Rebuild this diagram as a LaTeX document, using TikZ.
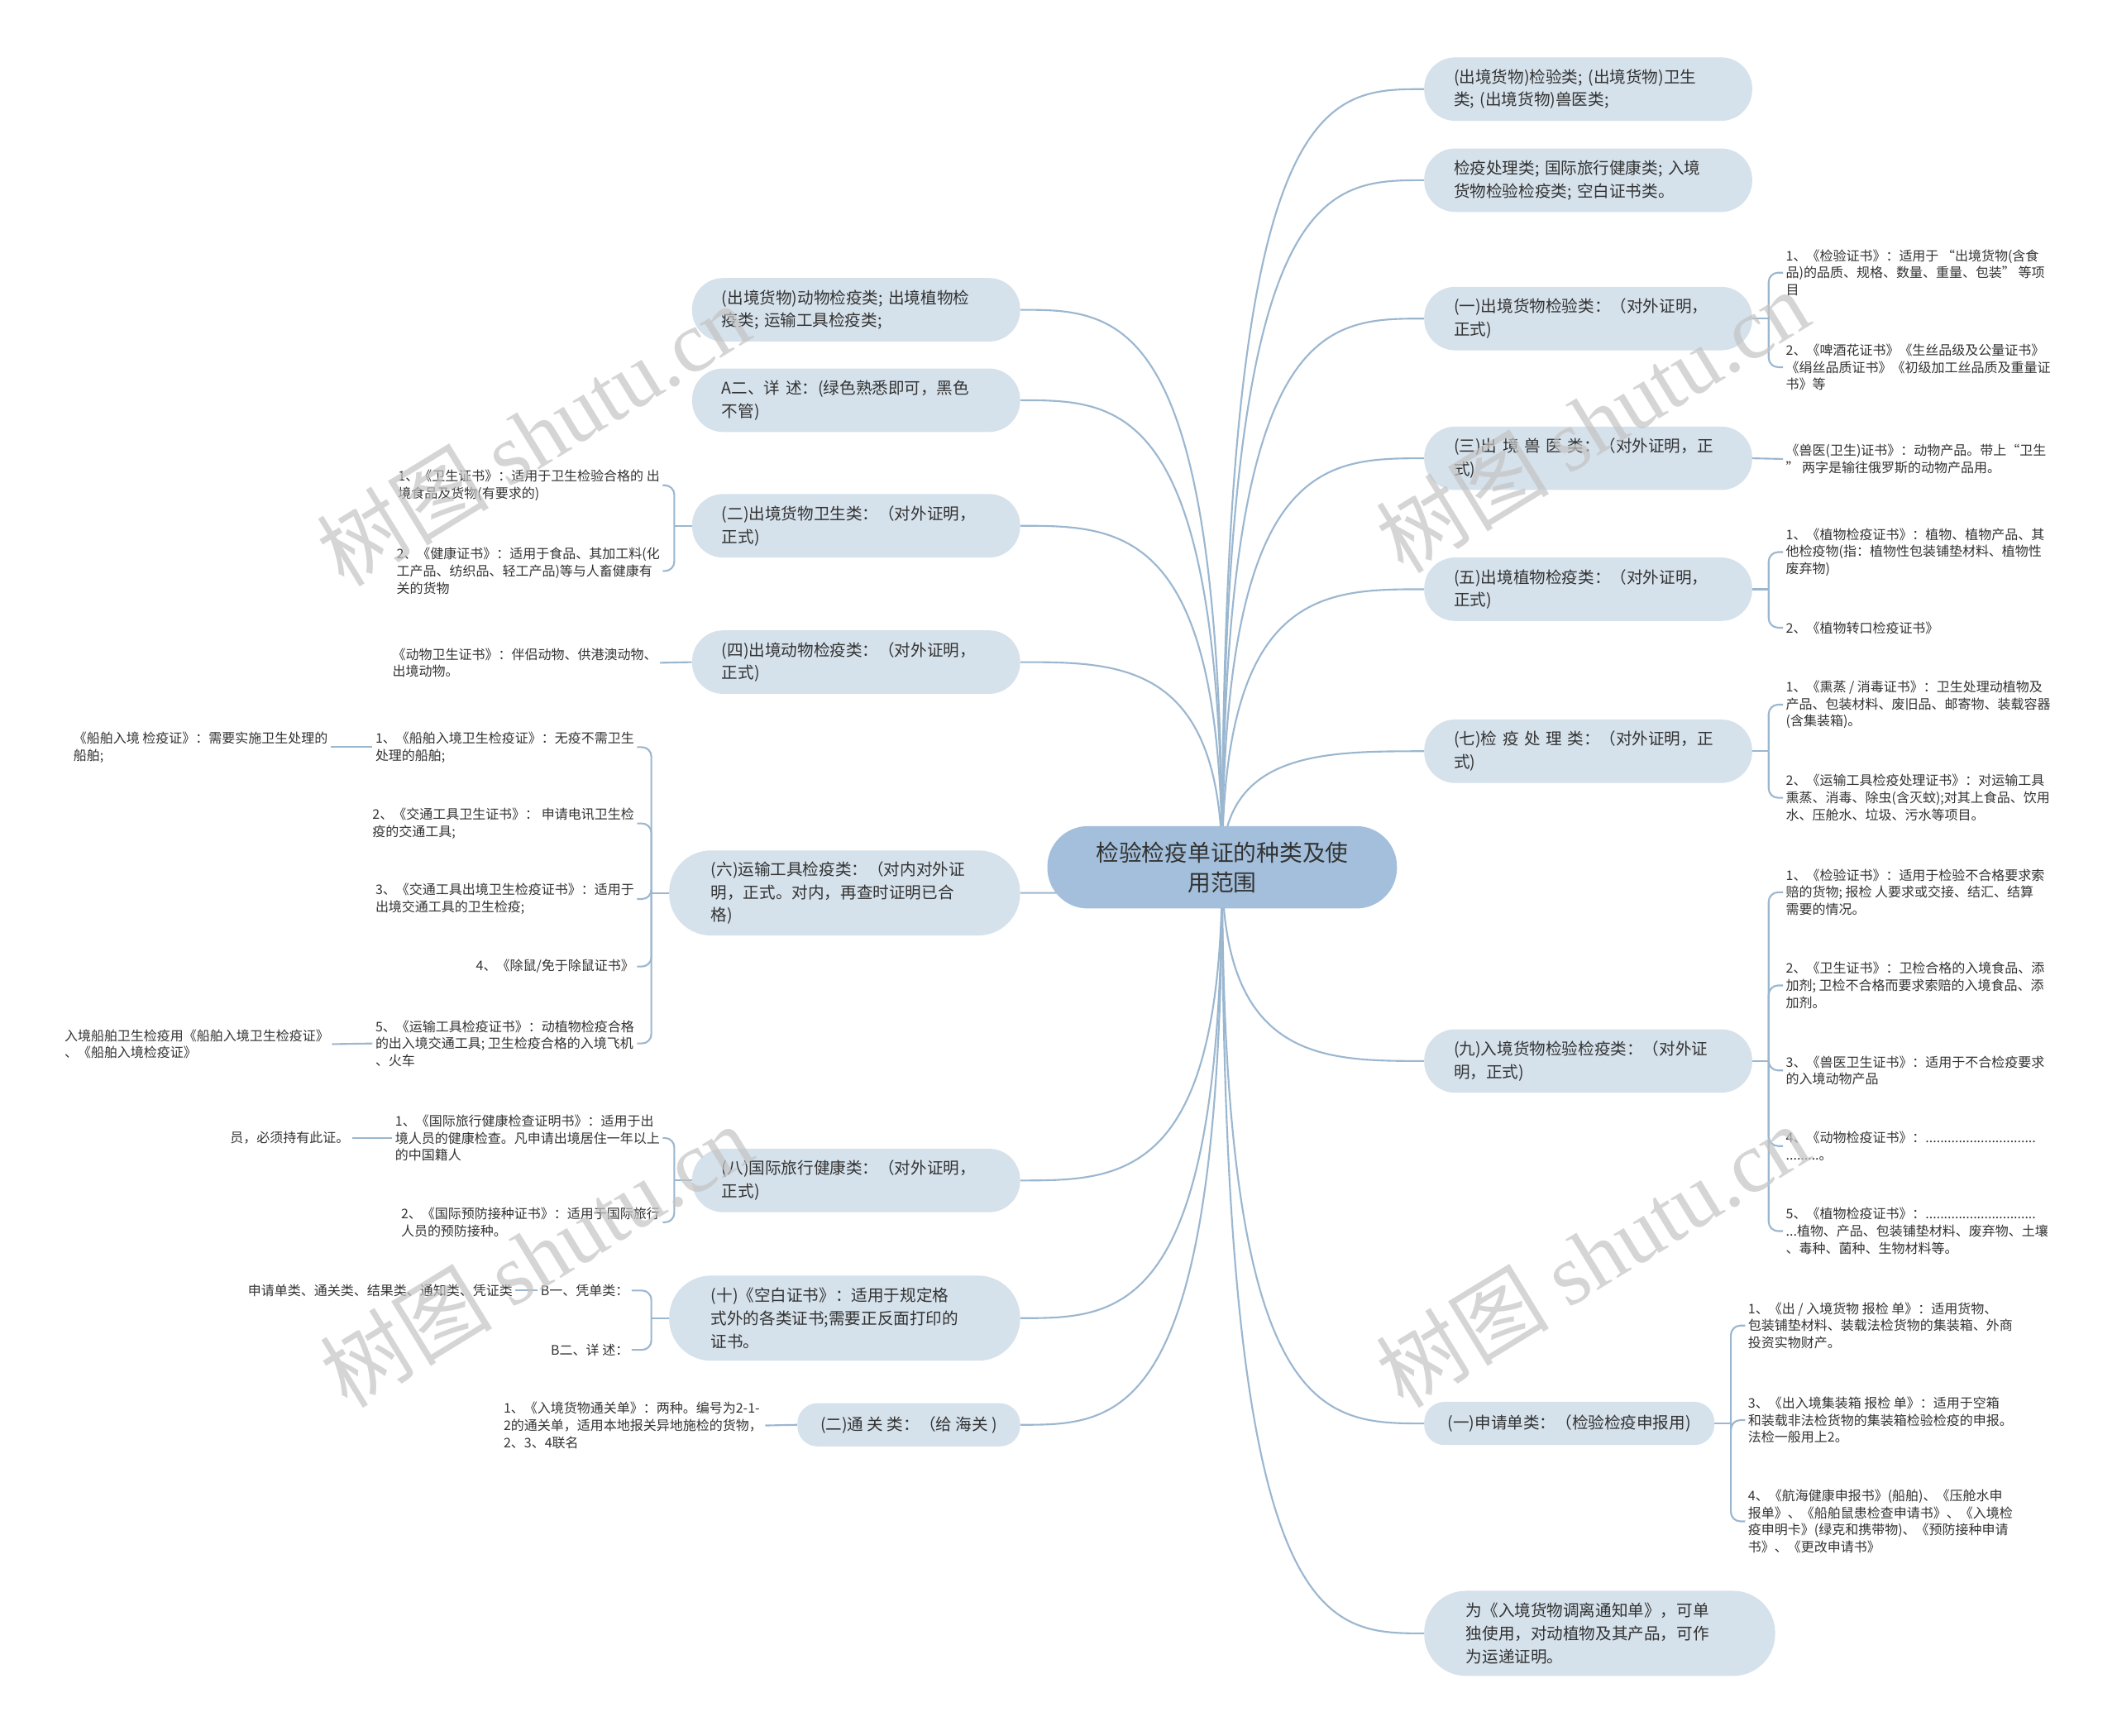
\documentclass[tikz,border=0pt]{standalone}
\usepackage{fontspec}
\setmainfont{Noto Sans CJK SC}
\newfontfamily\wmlatin{Liberation Serif}
\usetikzlibrary{calc,backgrounds}
\definecolor{linec}{HTML}{9BB7D0}
\definecolor{rootc}{HTML}{A3BFDB}
\definecolor{boxc}{HTML}{D5E1EB}
\definecolor{txtc}{HTML}{333333}
\definecolor{wmc}{HTML}{C4C4C4}
\begin{document}
\begin{tikzpicture}[x=1pt,y=-1pt,
 conn/.style={draw=linec, line width=1.3pt},
 brk/.style={conn, rounded corners=7pt},
 rootnode/.style={fill=rootc, rounded corners=30pt, minimum width=259pt, minimum height=61pt, align=center, text=txtc, font=\fontsize{17}{22}\selectfont, inner sep=0pt},
 br2/.style={fill=boxc, rounded corners=23pt, minimum height=47pt, inner xsep=22pt, inner ysep=3pt, text width=199pt, align=left, text=txtc, font=\fontsize{12}{17}\selectfont},
 br3/.style={br2, rounded corners=31pt, minimum height=63pt, inner xsep=31pt, text width=198pt},
 br1/.style={fill=boxc, rounded corners=15pt, minimum height=32pt, inner xsep=15pt, align=center, text=txtc, font=\fontsize{12}{17}\selectfont},
 leaf/.style={align=left, inner sep=2pt, text=txtc, font=\fontsize{9.8}{12.7}\selectfont},
 wm/.style={text=wmc, opacity=0.7, font=\fontsize{64}{70}\selectfont, rotate=31.5},
]
\useasboundingbox (0,0) rectangle (1568.5,1285.5);
\coordinate (rc) at (905.5,642.5);

% root
\node[rootnode] (root) at (905.5,642.5) {检验检疫单证的种类及使\\用范围};

% right branches
\node[br2, anchor=west] (R1) at (1055,66) {(出境货物)检验类; (出境货物)卫生\\类; (出境货物)兽医类;};
\node[br2, anchor=west] (R2) at (1055,133.5) {检疫处理类; 国际旅行健康类; 入境\\货物检验检疫类; 空白证书类。};
\node[br2, anchor=west] (R3) at (1055,236) {(一)出境货物检验类：（对外证明，\\正式)};
\node[br2, anchor=west] (R4) at (1055,339.5) {(三)出 境 兽 医 类：（对外证明，正\\式)};
\node[br2, anchor=west] (R5) at (1055,436.5) {(五)出境植物检疫类：（对外证明，\\正式)};
\node[br2, anchor=west] (R6) at (1055,556.5) {(七)检 疫 处 理 类：（对外证明，正\\式)};
\node[br2, anchor=west] (R7) at (1055,786) {(九)入境货物检验检疫类：（对外证\\明，正式)};
\node[br1, anchor=west, minimum width=215pt] (R8) at (1055,1054.5) {(一)申请单类：（检验检疫申报用)};
\node[br3, anchor=west] (R9) at (1055,1210) {为《入境货物调离通知单》，可单\\独使用，对动植物及其产品，可作\\为运递证明。};

% left branches
\node[br2, anchor=east] (L1) at (756,229.5) {(出境货物)动物检疫类; 出境植物检\\疫类; 运输工具检疫类;};
\node[br2, anchor=east] (L2) at (756,296.5) {A二、详 述：(绿色熟悉即可，黑色\\不管)};
\node[br2, anchor=east] (L3) at (756,389.5) {(二)出境货物卫生类：（对外证明，\\正式)};
\node[br2, anchor=east] (L4) at (756,490.5) {(四)出境动物检疫类：（对外证明，\\正式)};
\node[br3, anchor=east] (L5) at (756,661.5) {(六)运输工具检疫类：（对内对外证\\明，正式。对内，再查时证明已合\\格)};
\node[br2, anchor=east] (L6) at (756,874.5) {(八)国际旅行健康类：（对外证明，\\正式)};
\node[br3, anchor=east] (L7) at (756,976.5) {(十)《空白证书》：适用于规定格\\式外的各类证书;需要正反面打印的\\证书。};
\node[br1, anchor=east, minimum width=165pt] (L8) at (756,1055.5) {(二)通 关 类：（给 海关 )};

% right leaves
\node[leaf, anchor=west] (R3a) at (1321,202) {1、《检验证书》：适用于 “出境货物(含食\\品)的品质、规格、数量、重量、包装” 等项\\目};
\node[leaf, anchor=west] (R3b) at (1321,272) {2、《啤酒花证书》《生丝品级及公量证书》\\《绢丝品质证书》《初级加工丝品质及重量证\\书》等};
\node[leaf, anchor=west] (R4a) at (1321,340) {《兽医(卫生)证书》：动物产品。带上“卫生\\” 两字是输往俄罗斯的动物产品用。};
\node[leaf, anchor=west] (R5a) at (1321,409) {1、《植物检疫证书》：植物、植物产品、其\\他检疫物(指：植物性包装铺垫材料、植物性\\废弃物)};
\node[leaf, anchor=west] (R5b) at (1321,465) {2、《植物转口检疫证书》};
\node[leaf, anchor=west] (R6a) at (1321,522) {1、《熏蒸 / 消毒证书》：卫生处理动植物及\\产品、包装材料、废旧品、邮寄物、装载容器\\(含集装箱)。};
\node[leaf, anchor=west] (R6b) at (1321,591) {2、《运输工具检疫处理证书》：对运输工具\\熏蒸、消毒、除虫(含灭蚊);对其上食品、饮用\\水、压舱水、垃圾、污水等项目。};
\node[leaf, anchor=west] (R7a) at (1321,661) {1、《检验证书》：适用于检验不合格要求索\\赔的货物; 报检 人要求或交接、结汇、结算\\需要的情况。};
\node[leaf, anchor=west] (R7b) at (1321,730) {2、《卫生证书》：卫检合格的入境食品、添\\加剂; 卫检不合格而要求索赔的入境食品、添\\加剂。};
\node[leaf, anchor=west] (R7c) at (1321,793) {3、《兽医卫生证书》：适用于不合检疫要求\\的入境动物产品};
\node[leaf, anchor=west] (R7d) at (1321,849) {4、《动物检疫证书》：..............................\\.........。};
\node[leaf, anchor=west] (R7e) at (1321,912) {5、《植物检疫证书》：..............................\\...植物、产品、包装铺垫材料、废弃物、土壤\\、毒种、菌种、生物材料等。};
\node[leaf, anchor=west] (R8a) at (1293,982) {1、《出 / 入境货物 报检 单》：适用货物、\\包装铺垫材料、装载法检货物的集装箱、外商\\投资实物财产。};
\node[leaf, anchor=west] (R8b) at (1293,1052) {3、《出入境集装箱 报检 单》：适用于空箱\\和装载非法检货物的集装箱检验检疫的申报。\\法检一般用上2。};
\node[leaf, anchor=west] (R8c) at (1293,1127) {4、《航海健康申报书》(船舶)、《压舱水申\\报单》、《船舶鼠患检查申请书》、《入境检\\疫申明卡》(绿克和携带物)、《预防接种申请\\书》、《更改申请书》};

% left leaves
\node[leaf, anchor=east] (L3a) at (491,359.5) {1、《卫生证书》：适用于卫生检验合格的 出\\境食品及货物(有要求的)};
\node[leaf, anchor=east] (L3b) at (491,423) {2、《健康证书》：适用于食品、其加工料(化\\工产品、纺织品、轻工产品)等与人畜健康有\\关的货物};
\node[leaf, anchor=east] (L4a) at (489,491) {《动物卫生证书》：伴侣动物、供港澳动物、\\出境动物。};
\node[leaf, anchor=east] (L5a) at (472,553.5) {1、《船舶入境卫生检疫证》：无疫不需卫生\\处理的船舶;};
\node[leaf, anchor=east] (L5b) at (472,610) {2、《交通工具卫生证书》： 申请电讯卫生检\\疫的交通工具;};
\node[leaf, anchor=east] (L5c) at (472,666) {3、《交通工具出境卫生检疫证书》：适用于\\出境交通工具的卫生检疫;};
\node[leaf, anchor=east] (L5d) at (472,716) {4、《除鼠/免于除鼠证书》};
\node[leaf, anchor=east] (L5e) at (472,773) {5、《运输工具检疫证书》：动植物检疫合格\\的出入境交通工具; 卫生检疫合格的入境飞机\\、火车};
\node[leaf, anchor=east] (L5a1) at (245,553.5) {《船舶入境 检疫证》：需要实施卫生处理的\\船舶;};
\node[leaf, anchor=east] (L5e1) at (246,773.5) {入境船舶卫生检疫用《船舶入境卫生检疫证》\\、《船舶入境检疫证》};
\node[leaf, anchor=east] (L6a) at (491,843) {1、《国际旅行健康检查证明书》：适用于出\\境人员的健康检查。凡申请出境居住一年以上\\的中国籍人};
\node[leaf, anchor=east] (L6b) at (491,905.5) {2、《国际预防接种证书》：适用于国际旅行\\人员的预防接种。};
\node[leaf, anchor=east] (L6a1) at (261,843) {员，必须持有此证。};
\node[leaf, anchor=east] (L7a) at (468,956) {B一、凭单类：};
\node[leaf, anchor=east] (L7b) at (468,1000) {B二、详 述：};
\node[leaf, anchor=east] (L7a1) at (382,956) {申请单类、通关类、结果类、通知类、凭证类};
\node[leaf, anchor=east] (L8a) at (567,1056) {1、《入境货物通关单》：两种。编号为2-1-\\2的通关单，适用本地报关异地施检的货物，\\2、3、4联名};

\begin{scope}[on background layer]
\fill[white] (0,0) rectangle (1568.5,1285.5);
% root links
\foreach \n in {R1,R2,R3,R4,R5,R6,R7,R8,R9}
  {\draw[conn] (rc) .. controls (rc |- \n.west) and ($(rc |- \n.west)!0.5!(\n.west)$) .. (\n.west);}
\foreach \n in {L1,L2,L3,L4,L5,L6,L7,L8}
  {\draw[conn] (rc) .. controls (rc |- \n.east) and ($(rc |- \n.east)!0.5!(\n.east)$) .. (\n.east);}
% right brackets
\draw[conn] (R3.east) -- ++(12,0) coordinate (s3);
\draw[brk] (s3) |- (R3a.west);
\draw[brk] (s3) |- (R3b.west);
\draw[conn] (R4.east) -- (R4a.west);
\draw[conn] (R5.east) -- ++(12,0) coordinate (s5);
\draw[brk] (s5) |- (R5a.west);
\draw[brk] (s5) |- (R5b.west);
\draw[conn] (R6.east) -- ++(12,0) coordinate (s6);
\draw[brk] (s6) |- (R6a.west);
\draw[brk] (s6) |- (R6b.west);
\draw[conn] (R7.east) -- ++(12,0) coordinate (s7);
\foreach \m in {R7a,R7b,R7c,R7d,R7e} {\draw[brk] (s7) |- (\m.west);}
\draw[conn] (R8.east) -- ++(12,0) coordinate (s8);
\foreach \m in {R8a,R8b,R8c} {\draw[brk] (s8) |- (\m.west);}
% left brackets
\draw[conn] (L3.west) -- ++(-13,0) coordinate (t3);
\draw[brk] (t3) |- (L3a.east);
\draw[brk] (t3) |- (L3b.east);
\draw[conn] (L4.west) -- (L4a.east);
\draw[conn] (L5.west) -- ++(-13,0) coordinate (t5);
\foreach \m in {L5a,L5b,L5c,L5d,L5e} {\draw[brk] (t5) |- (\m.east);}
\draw[conn] (L5a.west) -- (L5a1.east);
\draw[conn] (L5e.west) -- (L5e1.east);
\draw[conn] (L6.west) -- ++(-13,0) coordinate (t6);
\draw[brk] (t6) |- (L6a.east);
\draw[brk] (t6) |- (L6b.east);
\draw[conn] (L6a.west) -- (L6a1.east);
\draw[conn] (L7.west) -- ++(-13,0) coordinate (t7);
\draw[brk] (t7) |- (L7a.east);
\draw[brk] (t7) |- (L7b.east);
\draw[conn] (L7a.west) -- (L7a1.east);
\draw[conn] (L8.west) -- (L8a.east);
\end{scope}

% watermarks
\node[wm] (wm1) at (395,322) {树图 {\wmlatin shutu.cn}};
\node[wm] (wm2) at (1180,312) {树图 {\wmlatin shutu.cn}};
\node[wm] (wm3) at (397,930) {树图 {\wmlatin shutu.cn}};
\node[wm] (wm4) at (1180,930) {树图 {\wmlatin shutu.cn}};
\end{tikzpicture}
\end{document}
